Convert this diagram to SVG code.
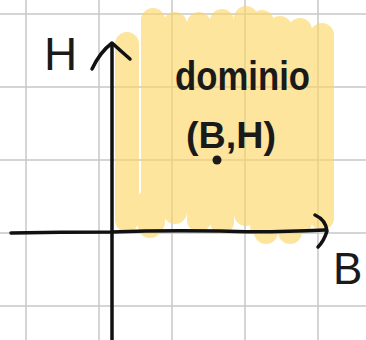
<svg xmlns="http://www.w3.org/2000/svg" width="366" height="340" viewBox="0 0 366 340">
<style>
.grid{stroke:#c8c8c8;stroke-width:1.5;fill:none}
.hl{stroke:#fbd563;stroke-opacity:0.62;stroke-width:24;stroke-linecap:round;fill:none}
.ink{stroke:#111;stroke-width:3.5;stroke-linecap:round;stroke-linejoin:round;fill:none}
.txt{font-family:"Liberation Sans",Arial,sans-serif;fill:#1a1a1a}
</style>
<rect width="366" height="340" fill="#fff"/>
<g id="grid">
<path class="grid" d="M26 0V340M99 0V340M172 0V340M245 0V340M318 0V340M0 14H366M0 87H366M0 160H366M0 233H366M0 306H366"/>
</g>
<g id="region">
<path class="hl" d="M127 44V220M153 20V222M175 24V212M199 24V220M222 21V222M246 18V214M262 22V226M280 28V222M300 30V222M322 35V218M266 190V232M290 190V232M150 200V226"/>
</g>
<g id="axes">
<path class="ink" d="M112 340V44"/>
<path class="ink" d="M92 69Q100 52 112 43Q122 52 130 59"/>
<path class="ink" d="M11 233Q60 232 112 232Q160 230 220 231Q260 233 325 230"/>
<path class="ink" d="M315 215Q326 220 327 231Q324 241 318 247"/>
</g>
<g id="labels">
<text class="txt" x="44" y="70" font-size="46">H</text>
<text class="txt" x="333" y="284" font-size="44">B</text>
<text class="txt" x="175" y="90" font-size="40" font-weight="bold" textLength="135" lengthAdjust="spacingAndGlyphs">dominio</text>
<text class="txt" x="186" y="148" font-size="36" font-weight="bold" textLength="90" lengthAdjust="spacingAndGlyphs">(B,H)</text>
<circle cx="217" cy="160" r="4.5" fill="#1a1a1a"/>
</g>
</svg>
